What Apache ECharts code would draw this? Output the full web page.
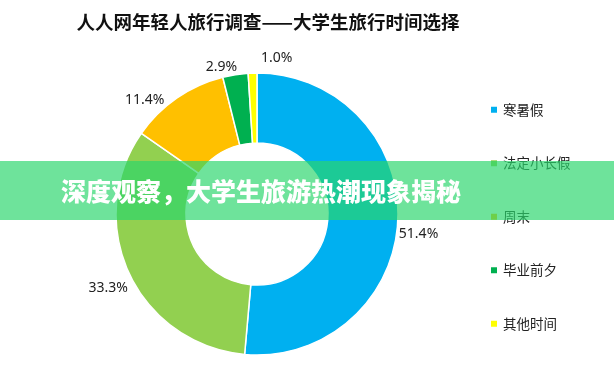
<!DOCTYPE html>
<html>
<head>
<meta charset="utf-8">
<script src="https://cdn.jsdelivr.net/npm/echarts@6/dist/echarts.min.js"></script>
<style>
html,body{margin:0;padding:0;background:#fff;}
#c{width:614px;height:381px;}
</style>
</head>
<body>
<div id="c"></div>
<script>
const categories = ['寒暑假', '法定小长假', '周末', '毕业前夕', '其他时间'];
const values = [51.4, 33.3, 11.4, 2.9, 1.0];
const colors = ['#00B0F0', '#92D050', '#FFC000', '#00B050', '#FFFF00'];
const titleText = '人人网年轻人旅行调查——大学生旅行时间选择';
const bannerText = '深度观察，大学生旅游热潮现象揭秘';

// label nudges to mimic the spreadsheet "outside end" placement
const labelNudge = [[-12, 13], [11, 11], [-3, 9], [8, 0], [45, -7]];

const chart = echarts.init(document.getElementById('c'));
chart.setOption({
  animation: false,
  backgroundColor: '#ffffff',
  title: {
    text: titleText,
    left: 263,
    textAlign: 'center',
    top: 8,
    textStyle: {fontFamily: 'Noto Sans CJK SC', fontWeight: 'bold', fontSize: 18.5, color: '#111'}
  },
  legend: {
    orient: 'vertical',
    left: 484,
    top: 98,
    icon: 'rect',
    itemWidth: 8,
    itemHeight: 8,
    itemGap: 40,
    data: categories,
    textStyle: {fontFamily: 'Noto Sans CJK SC', fontSize: 13.5, color: '#222'}
  },
  series: [{
    type: 'pie',
    center: [257, 214],
    radius: [71, 141],
    startAngle: 90,
    clockwise: true,
    avoidLabelOverlap: false,
    minShowLabelAngle: 0,
    labelLayout: {hideOverlap: false},
    itemStyle: {borderColor: '#fff', borderWidth: 1.5},
    label: {
      show: true,
      position: 'outside',
      formatter: p => p.value.toFixed(1) + '%',
      fontFamily: 'Noto Sans',
      fontSize: 14,
      color: '#222'
    },
    labelLine: {show: false, length: 8, length2: 0},
    emphasis: {disabled: true},
    data: categories.map((c, i) => ({
      name: c, value: values[i],
      itemStyle: {color: colors[i]},
      label: {offset: labelNudge[i]}
    }))
  }],
  graphic: [
    {type: 'rect', z: 100, shape: {x: 0, y: 161, width: 614, height: 59}, style: {fill: 'rgba(41,214,108,0.68)'}},
    {type: 'text', z: 101, x: 261, y: 191, style: {text: bannerText, fill: '#fff', font: '900 25px "Noto Sans CJK SC"', textAlign: 'center', textVerticalAlign: 'middle'}}
  ]
});
</script>
</body>
</html>
